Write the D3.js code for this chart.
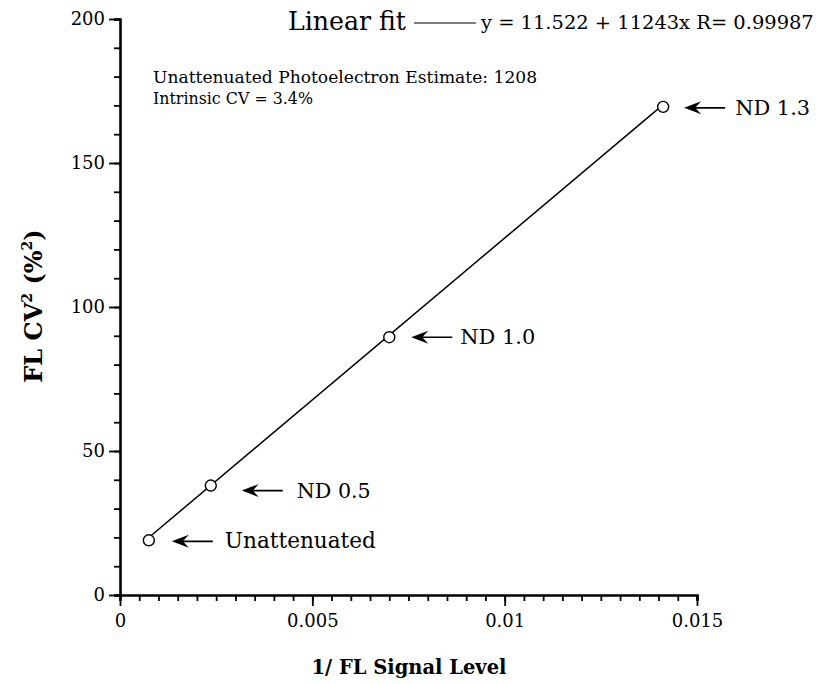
<!DOCTYPE html>
<html><head><meta charset="utf-8">
<script src="https://cdn.jsdelivr.net/npm/d3@7"></script>
<style>
body{margin:0;background:#fff;}
svg{display:block;font-family:"DejaVu Serif",serif;}
</style></head>
<body><svg id="c" width="820" height="684"></svg>
<script>
// ---- data ----
const labels = ["Unattenuated", "ND 0.5", "ND 1.0", "ND 1.3"];
const xValues = [0.00075, 0.00236, 0.00700, 0.01412];
const yValues = [19.0, 38.0, 89.5, 169.5];
const fitIntercept = 11.522;
const fitSlope = 11243;
const xTicks = [0, 0.005, 0.01, 0.015];
const xTickLabels = ["0", "0.005", "0.01", "0.015"];
const yTicks = [0, 50, 100, 150, 200];
const yTickLabels = ["0", "50", "100", "150", "200"];

const svg = d3.select("#c");
const L = 120, R = 697, T = 19, B = 595;
const x = d3.scaleLinear().domain([0, 0.015]).range([L, R]);
const y = d3.scaleLinear().domain([0, 200]).range([B, T]);

// fit a text element to a target width by scaling its font size
function fit(sel, w) {
  const n = sel.node();
  const cur = n.getComputedTextLength();
  const fs = parseFloat(sel.attr("font-size"));
  sel.attr("font-size", (fs * w / cur).toFixed(2));
  return sel;
}

const xMinor = d3.range(0, 0.01501, 0.0005);
const yMinor = d3.range(0, 201, 10);

const gx = svg.append("g").attr("transform", `translate(0,${B})`);
gx.call(d3.axisBottom(x).tickValues(xMinor).tickSize(6).tickFormat(""));
gx.selectAll(".tick line").attr("stroke-width", 1.8);
gx.select(".domain").attr("stroke-width", 2.6);
const gx2 = svg.append("g").attr("transform", `translate(0,${B})`);
gx2.call(d3.axisBottom(x).tickValues(xTicks).tickSize(11).tickPadding(8)
  .tickFormat((d, i) => xTickLabels[i]));
gx2.select(".domain").remove();
gx2.selectAll(".tick line").attr("stroke-width", 1.8);
gx2.selectAll("text").attr("font-size", 18).attr("font-family", "DejaVu Serif").attr("fill", "#000");

const gy = svg.append("g").attr("transform", `translate(${L},0)`);
gy.call(d3.axisLeft(y).tickValues(yMinor).tickSize(6).tickFormat(""));
gy.selectAll(".tick line").attr("stroke-width", 1.8);
gy.select(".domain").attr("stroke-width", 2.6);
const gy2 = svg.append("g").attr("transform", `translate(${L},0)`);
gy2.call(d3.axisLeft(y).tickValues(yTicks).tickSize(11).tickPadding(4)
  .tickFormat((d, i) => yTickLabels[i]));
gy2.select(".domain").remove();
gy2.selectAll(".tick line").attr("stroke-width", 1.8);
gy2.selectAll("text").attr("font-size", 18).attr("font-family", "DejaVu Serif").attr("fill", "#000");

// fit line
const x0 = xValues[0], x1 = xValues[xValues.length - 1];
svg.append("line")
  .attr("x1", x(x0)).attr("y1", y(fitIntercept + fitSlope * x0))
  .attr("x2", x(x1)).attr("y2", y(fitIntercept + fitSlope * x1))
  .attr("stroke", "#000").attr("stroke-width", 1.5);

// points
const pts = xValues.map((v, i) => ({x: v, y: yValues[i], label: labels[i]}));
svg.selectAll("circle.pt").data(pts).join("circle")
  .attr("class", "pt")
  .attr("cx", d => x(d.x)).attr("cy", d => y(d.y)).attr("r", 5.5)
  .attr("fill", "#fff").attr("stroke", "#000").attr("stroke-width", 1.4);

// annotations
const arrowGap = [23, 31, 22, 21];
const arrowDy = [1, 5, 0, 1];
const textGap = [12, 14, 8, 10];
const textW = [151, 74, 75, 75];
pts.forEach((d, i) => {
  const ax = x(d.x) + arrowGap[i];
  const ay = y(d.y) + arrowDy[i];
  const len = 41;
  const g = svg.append("g");
  g.append("line").attr("x1", ax + 8).attr("y1", ay).attr("x2", ax + len).attr("y2", ay)
    .attr("stroke", "#000").attr("stroke-width", 1.7);
  g.append("path")
    .attr("d", `M${ax},${ay} L${ax + 17},${ay - 6.5} L${ax + 11},${ay} L${ax + 17},${ay + 6.5} Z`)
    .attr("fill", "#000");
  const t = g.append("text").attr("x", ax + len + textGap[i]).attr("y", ay + 7)
    .attr("font-size", 20).attr("fill", "#000").text(d.label);
  fit(t, textW[i]);
});

// legend / header text
fit(svg.append("text").attr("x", 288).attr("y", 30).attr("font-size", 22).text("Linear fit"), 118);
svg.append("line").attr("x1", 414).attr("x2", 476).attr("y1", 23).attr("y2", 23)
  .attr("stroke", "#000").attr("stroke-width", 1.1);
const eq = svg.append("text").attr("x", 481).attr("y", 29).attr("font-size", 18)
  .text("y = 11.522 + 11243x R= 0.99987");
fit(eq, 333);
fit(svg.append("text").attr("x", 153).attr("y", 83).attr("font-size", 17)
  .text("Unattenuated Photoelectron Estimate: 1208"), 384);
fit(svg.append("text").attr("x", 153).attr("y", 104).attr("font-size", 17)
  .text("Intrinsic CV = 3.4%"), 160);

// axis titles
const xt = svg.append("text").attr("x", 409).attr("y", 674).attr("text-anchor", "middle")
  .attr("font-size", 22).attr("font-weight", "bold").text("1/ FL Signal Level");
fit(xt, 195);
const yt = svg.append("text").attr("transform", "translate(42,306) rotate(-90)")
  .attr("text-anchor", "middle").attr("font-size", 24).attr("font-weight", "bold");
yt.append("tspan").text("FL CV");
yt.append("tspan").attr("font-size", 14).attr("dy", -10).text("2");
yt.append("tspan").attr("dy", 10).text(" (%");
yt.append("tspan").attr("font-size", 14).attr("dy", -10).text("2");
yt.append("tspan").attr("dy", 10).text(")");
</script></body></html>
